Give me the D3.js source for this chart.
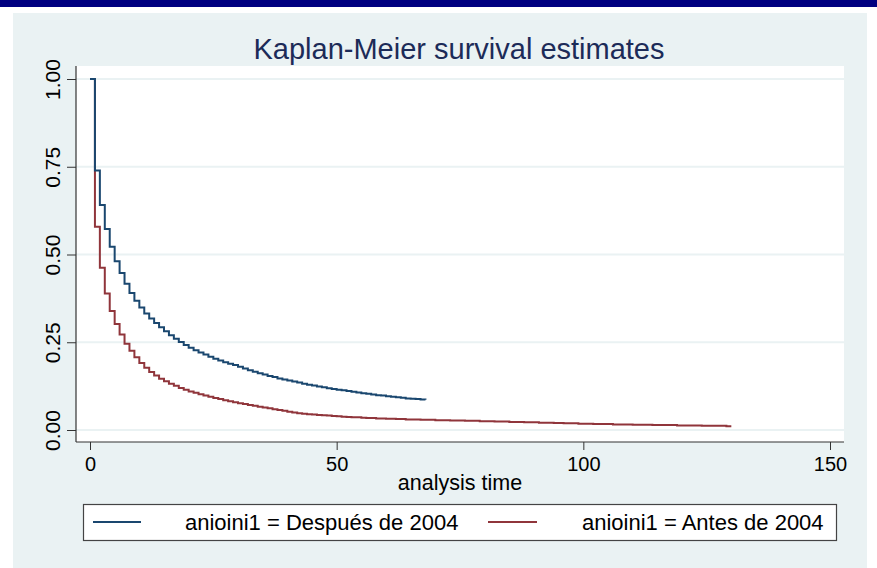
<!DOCTYPE html>
<html>
<head>
<meta charset="utf-8">
<script src="https://cdn.jsdelivr.net/npm/d3@7"></script>
<style>
  body { margin: 0; background: #fff; }
  text { font-family: "Liberation Sans", Arial, sans-serif; }
</style>
</head>
<body>
<script>
// Kaplan-Meier estimates, one value per analysis time (t = 0, 1, 2, ...)
const despues = [
  1.000, 0.739, 0.641, 0.573, 0.522, 0.481, 0.447, 0.417, 0.390, 0.368,
  0.349, 0.332, 0.318, 0.305, 0.293, 0.281, 0.270, 0.260, 0.251, 0.242,
  0.234, 0.227, 0.221, 0.215, 0.209, 0.203, 0.198, 0.193, 0.189, 0.185,
  0.180, 0.175, 0.170, 0.166, 0.162, 0.158, 0.154, 0.151, 0.147, 0.144,
  0.141, 0.138, 0.135, 0.132, 0.129, 0.127, 0.124, 0.122, 0.119, 0.117,
  0.115, 0.113, 0.111, 0.109, 0.107, 0.105, 0.103, 0.101, 0.099, 0.098,
  0.096, 0.095, 0.093, 0.092, 0.090, 0.089, 0.088, 0.087, 0.086
];
const antes = [
  1.000, 0.579, 0.462, 0.389, 0.339, 0.302, 0.272, 0.246, 0.226, 0.207,
  0.191, 0.177, 0.165, 0.155, 0.146, 0.139, 0.132, 0.126, 0.120, 0.115,
  0.110, 0.106, 0.102, 0.098, 0.095, 0.091, 0.088, 0.085, 0.082, 0.079,
  0.076, 0.074, 0.071, 0.069, 0.066, 0.064, 0.062, 0.059, 0.057, 0.055,
  0.052, 0.050, 0.048, 0.046, 0.045, 0.044, 0.043, 0.042, 0.041, 0.040,
  0.039, 0.038, 0.037, 0.036, 0.036, 0.035, 0.034, 0.034, 0.033, 0.033,
  0.032, 0.032, 0.031, 0.031, 0.030, 0.030, 0.030, 0.029, 0.029, 0.029,
  0.028, 0.028, 0.028, 0.027, 0.027, 0.027, 0.026, 0.026, 0.026, 0.025,
  0.025, 0.025, 0.024, 0.024, 0.024, 0.023, 0.023, 0.023, 0.022, 0.022,
  0.022, 0.021, 0.021, 0.021, 0.020, 0.020, 0.019, 0.019, 0.019, 0.018,
  0.018, 0.018, 0.017, 0.017, 0.017, 0.017, 0.016, 0.016, 0.016, 0.016,
  0.015, 0.015, 0.015, 0.015, 0.014, 0.014, 0.014, 0.014, 0.014, 0.013,
  0.013, 0.013, 0.013, 0.013, 0.012, 0.012, 0.012, 0.012, 0.012, 0.011,
  0.011
];
const seriesNames = ["anioini1 = Después de 2004", "anioini1 = Antes de 2004"];
const xTicks = [0, 50, 100, 150];
const yTicks = [0, 0.25, 0.5, 0.75, 1];

const W = 877, H = 568;
const colors = ["#1a476f", "#90353b"];

const svg = d3.select("body").append("svg")
  .attr("width", W).attr("height", H);

// page frame
svg.append("rect").attr("width", W).attr("height", H).attr("fill", "#fff");
svg.append("rect").attr("width", W).attr("height", 7).attr("fill", "#000080");
svg.append("rect").attr("x", 13).attr("y", 13).attr("width", 854).attr("height", H - 13)
  .attr("fill", "#eaf2f3");

// plot region
const pl = 76, pr = 844, pt = 66, pb = 442;
svg.append("rect").attr("x", pl).attr("y", pt).attr("width", pr - pl).attr("height", pb - pt)
  .attr("fill", "#fff");

const x = d3.scaleLinear().domain([0, 150]).range([90, 830]);
const y = d3.scaleLinear().domain([0, 1]).range([430, 79]);

// grid
svg.append("g").selectAll("line").data(yTicks).join("line")
  .attr("x1", pl).attr("x2", pr)
  .attr("y1", d => y(d)).attr("y2", d => y(d))
  .attr("stroke", "#eaf2f3").attr("stroke-width", 2);

// axes
const yAxis = svg.append("g").attr("transform", `translate(${pl},0)`)
  .call(d3.axisLeft(y).tickValues(yTicks).tickSize(9).tickPadding(0).tickFormat(d3.format(".2f")));
yAxis.select(".domain").remove();
yAxis.selectAll(".tick line").attr("stroke", "#333");
yAxis.selectAll(".tick text")
  .attr("x", null).attr("dy", null)
  .attr("transform", "translate(-16,0) rotate(-90)")
  .attr("text-anchor", "middle")
  .attr("font-size", 21).attr("fill", "#000");

const xAxis = svg.append("g").attr("transform", `translate(0,${pb})`)
  .call(d3.axisBottom(x).tickValues(xTicks).tickSize(8).tickPadding(0));
xAxis.select(".domain").remove();
xAxis.selectAll(".tick line").attr("stroke", "#333");
xAxis.selectAll(".tick text")
  .attr("y", 29).attr("dy", null)
  .attr("font-size", 20).attr("fill", "#000");

svg.append("line").attr("x1", pl).attr("x2", pl).attr("y1", pt).attr("y2", pb)
  .attr("stroke", "#333").attr("stroke-width", 1.2);
svg.append("line").attr("x1", pl).attr("x2", pr).attr("y1", pb).attr("y2", pb)
  .attr("stroke", "#333").attr("stroke-width", 1.2);

// curves
const line = d3.line()
  .x((d, i) => x(i))
  .y(d => y(d))
  .curve(d3.curveStepAfter);

[antes, despues].forEach((s, k) => {
  svg.append("path").datum(s)
    .attr("d", line)
    .attr("fill", "none")
    .attr("stroke", k === 0 ? colors[1] : colors[0])
    .attr("stroke-width", 2);
});

// titles
svg.append("text").attr("x", 459).attr("y", 59)
  .attr("text-anchor", "middle").attr("font-size", 29).attr("fill", "#1c2b58")
  .text("Kaplan-Meier survival estimates");

svg.append("text").attr("x", 460).attr("y", 490)
  .attr("text-anchor", "middle").attr("font-size", 21.5).attr("fill", "#000")
  .text("analysis time");

// legend
const lg = svg.append("g");
lg.append("rect").attr("x", 83.5).attr("y", 504.5).attr("width", 753).attr("height", 36)
  .attr("fill", "#fff").attr("stroke", "#444").attr("stroke-width", 1.2);
const legendItems = [
  { x1: 93, x2: 141, tx: 185, color: colors[0], name: seriesNames[0] },
  { x1: 488, x2: 537, tx: 582, color: colors[1], name: seriesNames[1] }
];
legendItems.forEach(d => {
  lg.append("line").attr("x1", d.x1).attr("x2", d.x2).attr("y1", 522).attr("y2", 522)
    .attr("stroke", d.color).attr("stroke-width", 2);
  lg.append("text").attr("x", d.tx).attr("y", 530)
    .attr("font-size", 22).attr("fill", "#000").text(d.name);
});
</script>
</body>
</html>
